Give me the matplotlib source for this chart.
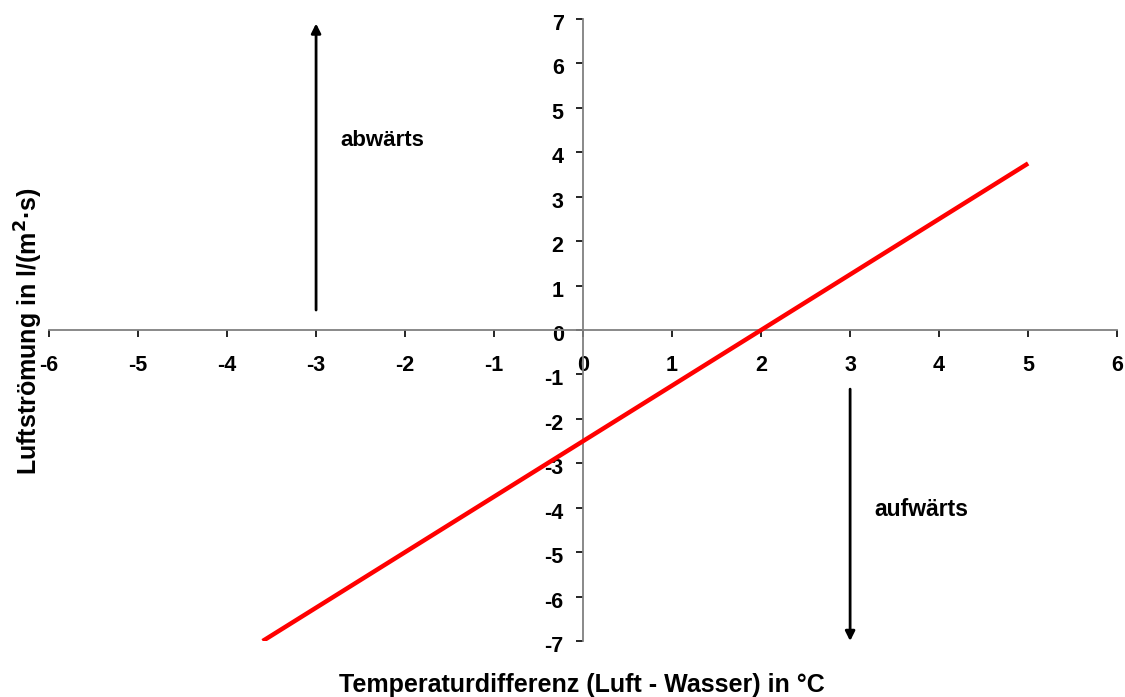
import matplotlib.pyplot as plt
import matplotlib.transforms as mtransforms

# Luftströmung über Temperaturdifferenz (lineare Beziehung)
temp_diff = [-3.6, 5.0]
flow = [-7.0, 3.75]

x_ticks = [-6, -5, -4, -3, -2, -1, 0, 1, 2, 3, 4, 5, 6]
y_ticks = [-7, -6, -5, -4, -3, -2, -1, 0, 1, 2, 3, 4, 5, 6, 7]

plt.rcParams['font.family'] = ['Liberation Sans', 'DejaVu Sans']
plt.rcParams['font.weight'] = 'bold'

fig = plt.figure(figsize=(11.25, 6.97), dpi=100)
ax = fig.add_axes([0.0436, 0.0803, 0.9494, 0.8924])

ax.plot(temp_diff, flow, color='#ff0000', lw=3.2, solid_capstyle='butt', zorder=3)

ax.set_xlim(-6, 6)
ax.set_ylim(-7, 7)

# Achsen durch den Nullpunkt
ax.spines['left'].set_position(('data', 0))
ax.spines['bottom'].set_position(('data', 0))
ax.spines['right'].set_visible(False)
ax.spines['top'].set_visible(False)
for s in ('left', 'bottom'):
    ax.spines[s].set_color('#808080')
    ax.spines[s].set_linewidth(1.3)

ax.set_xticks(x_ticks)
ax.set_yticks(y_ticks)
ax.set_xticklabels([str(t) for t in x_ticks])
ax.set_yticklabels([str(t) for t in y_ticks])
ax.tick_params(axis='both', direction='out', length=5, width=1.2, color='#000000',
               labelsize=15.5)
ax.tick_params(axis='x', pad=13)
ax.tick_params(axis='y', pad=9)
shift = mtransforms.ScaledTranslation(0, -3 / 100, fig.dpi_scale_trans)
for lab in ax.get_yticklabels():
    lab.set_transform(lab.get_transform() + shift)
for lab in ax.get_xticklabels() + ax.get_yticklabels():
    lab.set_fontweight('bold')

# Richtungspfeile
ax.annotate('', xy=(-3, 6.9), xytext=(-3, 0.45),
            arrowprops=dict(arrowstyle='-|>', color='black', lw=2, mutation_scale=14,
                            shrinkA=0, shrinkB=0))
ax.annotate('', xy=(3, -7.0), xytext=(3, -1.33),
            arrowprops=dict(arrowstyle='-|>', color='black', lw=2, mutation_scale=14,
                            shrinkA=0, shrinkB=0))
ax.text(-2.73, 4.27, 'abwärts', fontsize=16, fontweight='bold', va='center', ha='left')
ax.text(3.27, -4.04, 'aufwärts', fontsize=16.5, fontweight='bold', va='center', ha='left')

fig.text(0.517, 0.0075, 'Temperaturdifferenz (Luft - Wasser) in °C', fontsize=18,
         fontweight='bold', ha='center', va='baseline')
fig.text(0.026, 0.525, 'Luftströmung in l/(m$^\\mathbf{2}$·s)', fontsize=18,
         fontweight='bold', ha='center', va='center', rotation=90)

fig.savefig('out.png', dpi=100)
